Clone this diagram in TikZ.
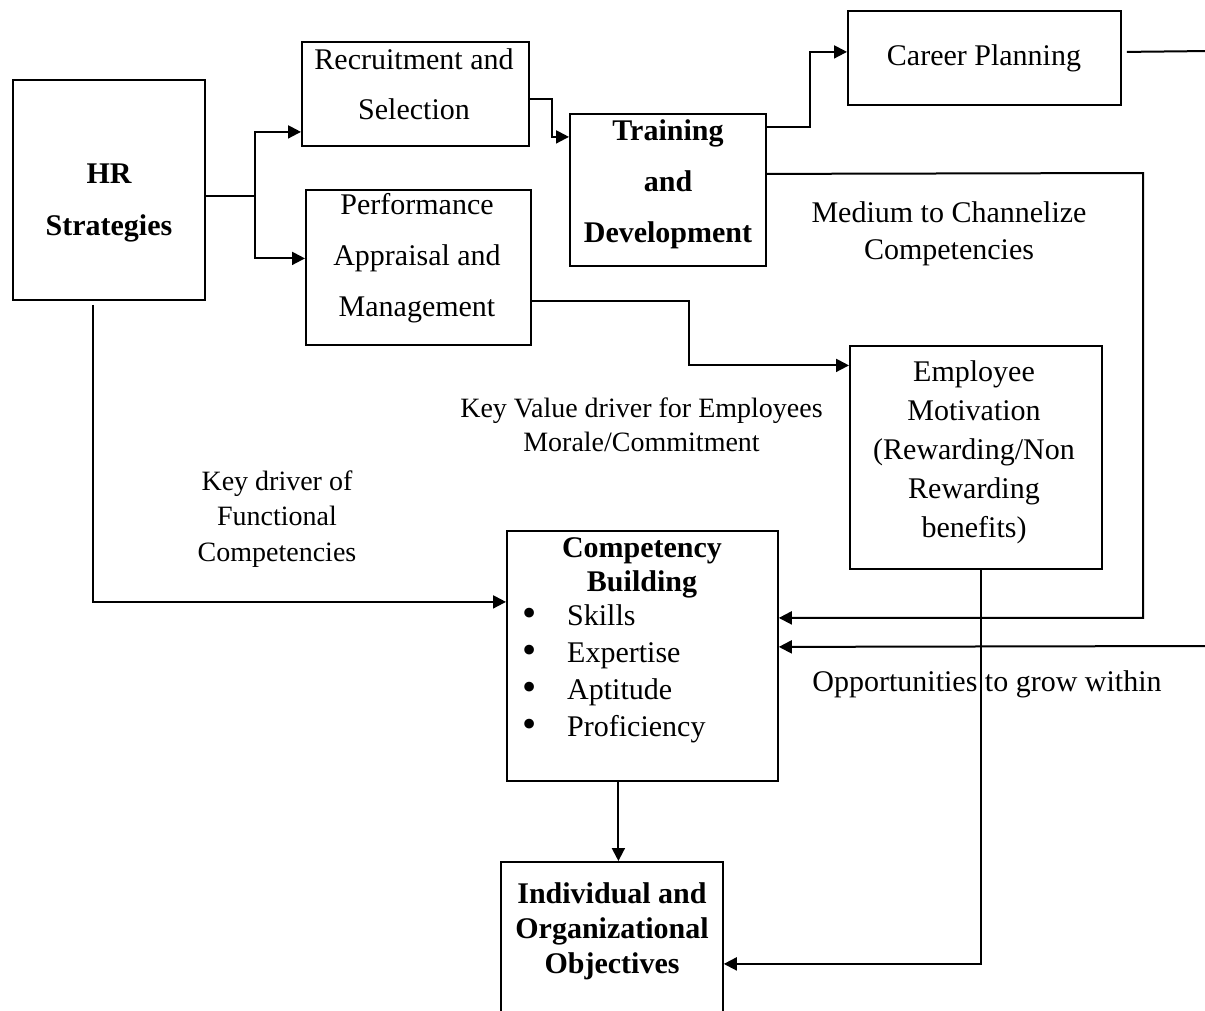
\documentclass[tikz,border=0pt]{standalone}
\usepackage{fontspec}
\usepackage{graphicx}
\setmainfont{Liberation Serif}
\usetikzlibrary{arrows.meta,calc}
\newcommand{\mybul}{\makebox[45pt][l]{\raisebox{-1pt}{\scalebox{1.35}{\textbullet}}}}
\begin{document}
\begin{tikzpicture}[x=1pt,y=-1pt,
  box/.style={draw, line width=1.8pt, rectangle, inner sep=0pt, anchor=north west},
  ln/.style={line width=2pt},
  arr/.style={line width=2pt, -{Triangle[length=13pt,width=13pt]}},
  txt/.style={align=center, inner sep=0pt, font=\fontsize{30}{#1}\selectfont},
  txt/.default=36,
  stxt/.style={align=center, inner sep=0pt, font=\fontsize{28}{#1}\selectfont},
  btxt/.style={align=center, inner sep=0pt, font=\fontsize{30}{#1}\selectfont\bfseries},
  btxt/.default=36]
\useasboundingbox (0,0) rectangle (1205,1010);
\clip (0,0) rectangle (1205,1010);

% boxes
\node[box, minimum width=192pt, minimum height=220pt] (hr) at (12,79) {};
\node[box, minimum width=227pt, minimum height=104pt] (rs) at (301,41) {};
\node[box, minimum width=225pt, minimum height=155pt] (pa) at (305,189) {};
\node[box, minimum width=196pt, minimum height=152pt] (td) at (569,113) {};
\node[box, minimum width=273pt, minimum height=94pt] (cp) at (847,10) {};
\node[box, minimum width=252pt, minimum height=223pt] (em) at (849,345) {};
\node[box, minimum width=271pt, minimum height=250pt] (cb) at (506,530) {};
\node[box, minimum width=222pt, minimum height=170pt] (ob) at (500,861) {};

% texts in boxes
\node[btxt=52] (hrt) at (109,203) {HR\\Strategies};
\node[txt=50] (rst) at (414,84) {Recruitment and\\Selection};
\node[txt=51] (pat) at (417,258.5) {Performance\\Appraisal and\\Management};
\node[btxt=51] (tdt) at (668,184) {Training\\and\\Development};
\node[txt] (cpt) at (984,58) {Career Planning};
\node[txt=39] (emt) at (974,452) {Employee\\Motivation\\(Rewarding/Non\\Rewarding\\benefits)};
\node[btxt=34] (cbt) at (642,568) {Competency\\Building};
\node[align=left, inner sep=0pt, font=\fontsize{30}{37}\selectfont, anchor=west] (cbl) at (522,674)
  {\mybul Skills\\\mybul Expertise\\\mybul Aptitude\\\mybul Proficiency};
\node[btxt=35] (obt) at (612,931) {Individual and\\Organizational\\Objectives};

% free labels
\node[txt=37] (l1) at (949,234) {Medium to Channelize\\Competencies};
\node[stxt=34] (l2) at (641.5,425) {Key Value driver for Employees\\Morale/Commitment};
\node[stxt=35.5] (l3) at (277,519) {Key driver of\\Functional\\Competencies};
\node[txt] (l4) at (987,684) {Opportunities to grow within};

% edge coordinates
\coordinate (e1) at (1210,51);
\coordinate (e2) at (1210,646);
\coordinate (c1) at (1143,173);

% connectors
\draw[ln] ([yshift=-6pt]hr.east) -- ++(49,0) coordinate (j1);
\draw[arr] (j1) |- ([yshift=-38pt]rs.west);
\draw[arr] (j1) |- ([yshift=9pt]pa.west);
\draw[arr] ([yshift=-5pt]rs.east) -- ++(22,0) |- ([yshift=53pt]td.west);
\draw[arr] ([yshift=63pt]td.east) -- ++(43,0) |- ([yshift=6pt]cp.west);
\draw[ln] ([yshift=6pt,xshift=5pt]cp.east) -- (e1);
\draw[arr] ([yshift=16pt]td.east) -- (c1) |- ([yshift=38pt]cb.east);
\draw[arr] (e2) -- ([yshift=9pt]cb.east);
\draw[arr] ([yshift=-34pt]pa.east) -- ++(157,0) |- ([yshift=92pt]em.west);
\draw[arr] ([xshift=-16pt,yshift=-4pt]hr.south) |- ([yshift=54pt]cb.west);
\draw[arr] ([xshift=5.5pt]em.south) |- ([yshift=-17pt]ob.east);
\draw[arr] ([xshift=-24pt]cb.south) -- ([xshift=-24pt]cb.south |- ob.north);
\end{tikzpicture}
\end{document}
